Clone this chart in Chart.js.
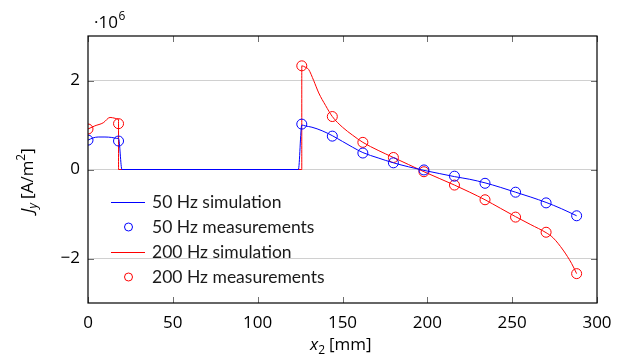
<!DOCTYPE html>
<html>
<head>
<meta charset="utf-8">
<script src="https://cdn.jsdelivr.net/npm/chart.js@4.4.0/dist/chart.umd.min.js"></script>
<style>
  html, body { margin: 0; padding: 0; background: #fff; }
  #wrap { width: 624px; height: 360px; }
</style>
</head>
<body>
<div id="wrap"><canvas id="chart" width="624" height="360"></canvas></div>
<script>
// J_y values are in units of 10^6 A/m^2, positions x_2 in mm
const measX = [0, 18, 126, 144, 162, 180, 198, 216, 234, 252, 270, 288];
const meas50 = [0.66, 0.64, 1.02, 0.75, 0.37, 0.15, -0.01, -0.15, -0.31, -0.51, -0.75, -1.04];
const meas200 = [0.91, 1.03, 2.33, 1.19, 0.61, 0.27, -0.05, -0.35, -0.68, -1.07, -1.41, -2.34];

const simX50 = [0, 3, 6, 10, 14, 17, 18, 20, 124, 126, 128, 132, 138, 144, 150, 156, 162, 171, 180, 189, 198, 207, 216, 225, 234, 243, 252, 261, 270, 279, 288];
const sim50 = [0.66, 0.71, 0.73, 0.73, 0.72, 0.70, 0.70, 0, 0, 1.0, 0.98, 0.95, 0.87, 0.76, 0.63, 0.50, 0.38, 0.26, 0.15, 0.06, -0.02, -0.09, -0.16, -0.22, -0.30, -0.40, -0.51, -0.62, -0.74, -0.88, -1.04];

const simX200 = [0, 4, 9, 13, 16, 18, 18, 126, 126, 128, 130, 133, 136, 140, 144, 150, 156, 162, 171, 180, 189, 198, 207, 216, 225, 234, 243, 252, 261, 270, 274, 280, 285, 288];
const sim200 = [0.91, 0.98, 1.05, 1.17, 1.15, 1.13, 0, 0, 2.33, 2.30, 2.25, 2.0, 1.72, 1.44, 1.19, 0.95, 0.77, 0.61, 0.43, 0.27, 0.11, -0.05, -0.20, -0.35, -0.51, -0.68, -0.87, -1.06, -1.24, -1.42, -1.53, -1.81, -2.11, -2.34];

const xTicks = [0, 50, 100, 150, 200, 250, 300];
const yTicks = [-2, 0, 2];
const seriesNames = ['50 Hz simulation', '50 Hz measurements', '200 Hz simulation', '200 Hz measurements'];

const BLUE = '#0000ff';
const RED = '#ff0000';
const TICK_FONT = '17px "Open Sans", sans-serif';
const SMALL_FONT = '12px "Open Sans", sans-serif';
const LEGEND_FONT = '17.5px Lato, sans-serif';

const toXY = (xs, ys) => xs.map((x, i) => ({ x: x, y: ys[i] }));

// frame, inner ticks, legend and axis titles (pgfplots look)
const decorations = {
    id: 'decorations',
    afterDraw(chart) {
        const ctx = chart.ctx;
        const area = chart.chartArea;
        const xs = chart.scales.x, ys = chart.scales.y;
        ctx.save();

        // inner tick marks
        ctx.strokeStyle = '#707070';
        ctx.lineWidth = 1;
        ctx.beginPath();
        xTicks.forEach(t => {
            const px = Math.round(xs.getPixelForValue(t)) + 0.5;
            ctx.moveTo(px, area.bottom); ctx.lineTo(px, area.bottom - 6);
            ctx.moveTo(px, area.top); ctx.lineTo(px, area.top + 6);
        });
        yTicks.forEach(t => {
            const py = Math.round(ys.getPixelForValue(t)) + 0.5;
            ctx.moveTo(area.left, py); ctx.lineTo(area.left + 6, py);
            ctx.moveTo(area.right, py); ctx.lineTo(area.right - 6, py);
        });
        ctx.stroke();

        // box
        ctx.strokeStyle = '#000';
        ctx.lineWidth = 1.2;
        ctx.strokeRect(area.left, area.top, area.right - area.left, area.bottom - area.top);

        // legend
        const lx = 111, tx = 152;
        const rows = [202, 227, 252, 277];
        ctx.font = LEGEND_FONT;
        ctx.textBaseline = 'middle';
        ctx.textAlign = 'left';
        seriesNames.forEach((name, i) => {
            const color = i < 2 ? BLUE : RED;
            const y = rows[i];
            ctx.strokeStyle = color;
            ctx.lineWidth = 1;
            if (i % 2 === 0) {
                ctx.beginPath();
                ctx.moveTo(lx, y + 0.5); ctx.lineTo(lx + 34, y + 0.5);
                ctx.stroke();
            } else {
                ctx.beginPath();
                ctx.arc(lx + 17.5, y, 4, 0, Math.PI * 2);
                ctx.stroke();
            }
            ctx.fillStyle = '#1a1a1a';
            ctx.fillText(name, tx, y);
        });

        ctx.fillStyle = '#000';
        ctx.textBaseline = 'alphabetic';

        // scale factor
        let x = 94;
        ctx.font = TICK_FONT;
        ctx.fillText('\u00b710', x, 28);
        x += ctx.measureText('\u00b710').width + 0.5;
        ctx.font = SMALL_FONT;
        ctx.fillText('6', x, 20);

        // x axis title: x_2 [mm]
        x = 310;
        let base = 350;
        ctx.font = 'italic 17px "Open Sans", sans-serif';
        ctx.fillText('x', x, base);
        x += ctx.measureText('x').width;
        ctx.font = SMALL_FONT;
        ctx.fillText('2', x, base + 4);
        x += ctx.measureText('2').width + 4;
        ctx.font = TICK_FONT;
        ctx.fillText('[mm]', x, base);

        // y axis title: J_y [A/m^2]
        ctx.translate(33, 213);
        ctx.rotate(-Math.PI / 2);
        x = 0;
        ctx.font = 'italic 17px "Open Sans", sans-serif';
        ctx.fillText('J', x, 0);
        x += ctx.measureText('J').width;
        ctx.font = 'italic 12px "Open Sans", sans-serif';
        ctx.fillText('y', x, 4);
        x += ctx.measureText('y').width + 4;
        ctx.font = TICK_FONT;
        ctx.fillText('[A/m', x, 0);
        x += ctx.measureText('[A/m').width;
        ctx.font = SMALL_FONT;
        ctx.fillText('2', x, -8);
        x += ctx.measureText('2').width;
        ctx.font = TICK_FONT;
        ctx.fillText(']', x, 0);

        ctx.restore();
    }
};

new Chart(document.getElementById('chart'), {
    type: 'scatter',
    data: {
        datasets: [{
            label: seriesNames[0],
            data: toXY(simX50, sim50),
            showLine: true,
            borderColor: BLUE,
            borderWidth: 1,
            pointRadius: 0,
            cubicInterpolationMode: 'monotone'
        }, {
            label: seriesNames[1],
            data: toXY(measX, meas50),
            showLine: false,
            borderColor: BLUE,
            backgroundColor: 'transparent',
            borderWidth: 1,
            pointRadius: 5
        }, {
            label: seriesNames[2],
            data: toXY(simX200, sim200),
            showLine: true,
            borderColor: RED,
            borderWidth: 1,
            pointRadius: 0,
            cubicInterpolationMode: 'monotone'
        }, {
            label: seriesNames[3],
            data: toXY(measX, meas200),
            showLine: false,
            borderColor: RED,
            backgroundColor: 'transparent',
            borderWidth: 1,
            pointRadius: 5
        }]
    },
    options: {
        responsive: false,
        animation: false,
        layout: { padding: { top: 36, right: 27, left: 0, bottom: 0 } },
        plugins: {
            legend: { display: false },
            tooltip: { enabled: false }
        },
        scales: {
            x: {
                type: 'linear',
                min: 0,
                max: 300,
                afterBuildTicks: s => { s.ticks = xTicks.map(v => ({ value: v })); },
                afterFit: s => { s.height = 57; },
                grid: { display: false },
                border: { display: false },
                ticks: {
                    font: { family: '"Open Sans", sans-serif', size: 17 },
                    color: '#000',
                    padding: 2,
                    maxRotation: 0
                }
            },
            y: {
                type: 'linear',
                min: -3,
                max: 3,
                afterBuildTicks: s => { s.ticks = yTicks.map(v => ({ value: v })); },
                afterFit: s => { s.width = 88; },
                grid: { color: '#d0d0d0', lineWidth: 1, drawTicks: false },
                border: { display: false },
                ticks: {
                    font: { family: '"Open Sans", sans-serif', size: 17 },
                    color: '#000',
                    padding: 8,
                    callback: v => String(v).replace('-', '\u2212')
                }
            }
        }
    },
    plugins: [decorations]
});
</script>
</body>
</html>
